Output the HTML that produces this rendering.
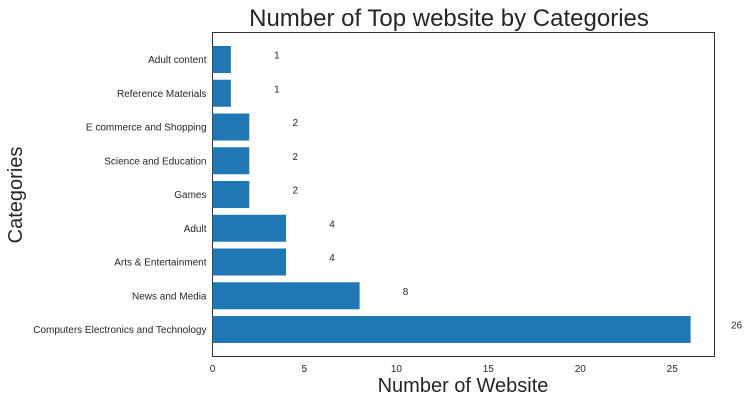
<!DOCTYPE html>
<html><head><meta charset="utf-8"><style>
body{margin:0;background:#fff;}
svg{display:block;font-family:"Liberation Sans",sans-serif;}
</style></head><body>
<svg id="chart" width="749" height="403">
<rect x="212.5" y="32.5" width="502" height="324" fill="none" stroke="#333" stroke-width="1"/>
<text x="449" y="26" font-size="24" text-anchor="middle" fill="#262626">Number of Top website by Categories</text>
<text x="463" y="392" font-size="20" text-anchor="middle" fill="#262626">Number of Website</text>
<text transform="translate(22,195) rotate(-90)" font-size="20" text-anchor="middle" fill="#262626">Categories</text>
<g id="marks"></g>
</svg>
<script>
const categories=["Computers Electronics and Technology","News and Media","Arts & Entertainment","Adult","Games","Science and Education","E commerce and Shopping","Reference Materials","Adult content"];
const values=[26,8,4,4,2,2,2,1,1];
const xTicks=[0,5,10,15,20,25];
const X0=212.5,XW=502,XMAX=27.3,YB=356.5,YT=32.5;
const x=v=>X0+v/XMAX*XW;
const step=(YB-YT)/(categories.length-1+1.6);
const yc=i=>YB-step*0.8-i*step;
const ns="http://www.w3.org/2000/svg";
const g=document.getElementById('marks');
function mk(t,a){const e=document.createElementNS(ns,t);for(const k in a)e.setAttribute(k,a[k]);g.appendChild(e);return e;}
categories.forEach((c,i)=>{
  const b=mk('rect',{x:x(0),y:yc(i)-step*0.4,width:x(values[i])-x(0),height:step*0.8,fill:'#1f77b4'});
  
  
  const l=mk('text',{x:X0-6,y:yc(i)+3.5,'font-size':'10','text-anchor':'end',fill:'#262626'});
  l.textContent=c;
  
  
  const v=mk('text',{x:x(values[i]+2.5),y:yc(i)-1,'font-size':'10','text-anchor':'middle',fill:'#262626'});
  v.textContent=values[i];
  
  
});
xTicks.forEach(t=>{
  const e=mk('text',{x:x(t),y:372,'font-size':'10','text-anchor':'middle',fill:'#262626'});
  e.textContent=t;
  
  
});
</script>
</body></html>
